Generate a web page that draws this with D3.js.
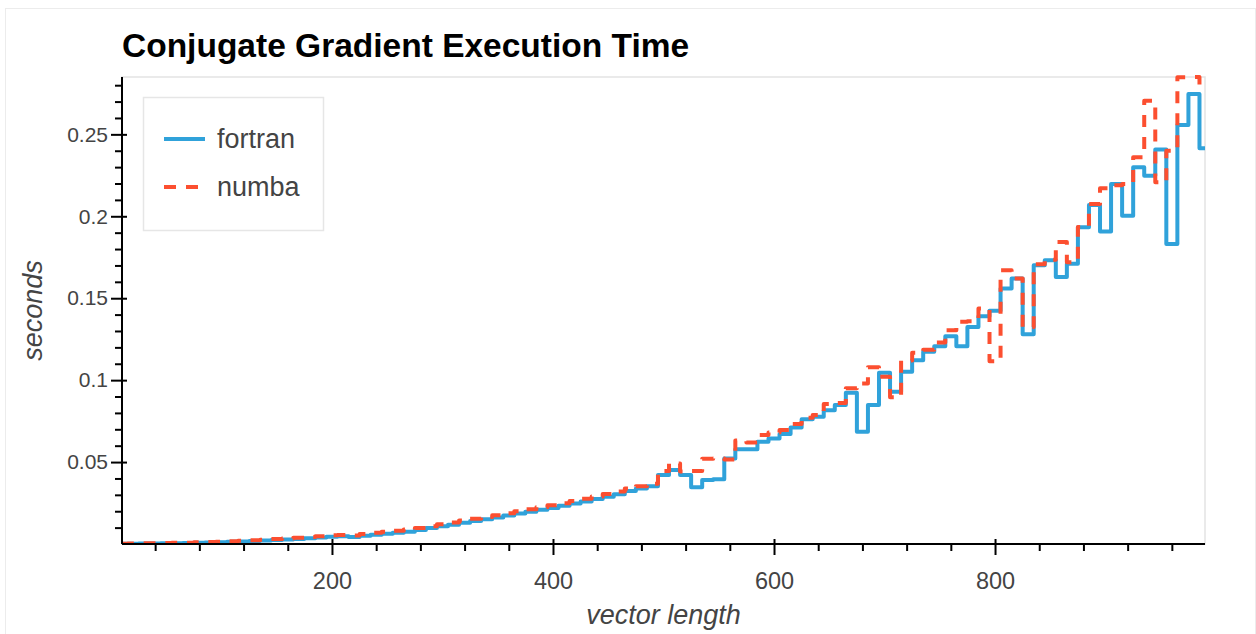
<!DOCTYPE html>
<html>
<head>
<meta charset="utf-8">
<script src="https://cdnjs.cloudflare.com/ajax/libs/d3/7.8.5/d3.min.js"></script>
<style>
  body { margin: 0; background: #fff; }
  text { font-family: "Liberation Sans", Arial, Helvetica, sans-serif; }
</style>
</head>
<body>
<div id="viz"></div>
<script>
// vector length (x) and timings in seconds for each implementation
var vectorLength = [10, 20, 30, 40, 50, 60, 70, 80, 90, 100,
    110, 120, 130, 140, 150, 160, 170, 180, 190, 200,
    210, 220, 230, 240, 250, 260, 270, 280, 290, 300,
    310, 320, 330, 340, 350, 360, 370, 380, 390, 400,
    410, 420, 430, 440, 450, 460, 470, 480, 490, 500,
    510, 520, 530, 540, 550, 560, 570, 580, 590, 600,
    610, 620, 630, 640, 650, 660, 670, 680, 690, 700,
    710, 720, 730, 740, 750, 760, 770, 780, 790, 800,
    810, 820, 830, 840, 850, 860, 870, 880, 890, 900,
    910, 920, 930, 940, 950, 960, 970, 980, 990];

var fortran = [0.0002, 0.0002, 0.0003, 0.0003, 0.0004, 0.0005, 0.0006, 0.0007, 0.0009, 0.0011,
    0.0013, 0.0016, 0.0018, 0.0021, 0.0024, 0.0027, 0.0031, 0.0035, 0.0039, 0.0044,
    0.0048, 0.0042, 0.0051, 0.0057, 0.0063, 0.0068, 0.0075, 0.0085, 0.0097, 0.0108,
    0.0118, 0.0130, 0.0141, 0.0151, 0.0162, 0.0174, 0.0186, 0.0197, 0.0209, 0.0220,
    0.0233, 0.0247, 0.0259, 0.0274, 0.0289, 0.0304, 0.0323, 0.0339, 0.0352, 0.0421,
    0.0451, 0.0421, 0.0346, 0.0390, 0.0395, 0.0522, 0.0579, 0.0579, 0.0624, 0.0644,
    0.0671, 0.0711, 0.0762, 0.0776, 0.0817, 0.0848, 0.0923, 0.0685, 0.0848, 0.1045,
    0.0929, 0.1051, 0.1122, 0.1173, 0.1207, 0.1268, 0.1207, 0.1325, 0.1390, 0.1423,
    0.1559, 0.1620, 0.1280, 0.1701, 0.1732, 0.1630, 0.1711, 0.1933, 0.2069, 0.1907,
    0.2197, 0.2004, 0.2299, 0.2248, 0.2407, 0.1831, 0.2557, 0.2746, 0.2415];

var numba = [0.0002, 0.0003, 0.0004, 0.0005, 0.0006, 0.0007, 0.0008, 0.0010, 0.0012, 0.0014,
    0.0017, 0.0020, 0.0023, 0.0026, 0.0030, 0.0034, 0.0038, 0.0043, 0.0048, 0.0053,
    0.0055, 0.0052, 0.0061, 0.0068, 0.0075, 0.0081, 0.0088, 0.0097, 0.0109, 0.0121,
    0.0131, 0.0143, 0.0154, 0.0165, 0.0176, 0.0188, 0.0200, 0.0212, 0.0225, 0.0236,
    0.0249, 0.0263, 0.0276, 0.0290, 0.0305, 0.0321, 0.0338, 0.0352, 0.0368, 0.0445,
    0.0492, 0.0442, 0.0445, 0.0520, 0.0522, 0.0515, 0.0632, 0.0620, 0.0665, 0.0680,
    0.0695, 0.0732, 0.0770, 0.0787, 0.0854, 0.0860, 0.0950, 0.0980, 0.1079, 0.1020,
    0.0895, 0.1120, 0.1167, 0.1185, 0.1230, 0.1305, 0.1356, 0.1360, 0.1437, 0.1115,
    0.1671, 0.1620, 0.1325, 0.1707, 0.1735, 0.1843, 0.1720, 0.1935, 0.2075, 0.2171,
    0.2190, 0.2197, 0.2360, 0.2705, 0.2207, 0.2400, 0.2849, 0.2850, 0.2797];

var xTicks = [200, 400, 600, 800];
var xTickLabels = ['200', '400', '600', '800'];
var xMinorTicks = [40, 80, 120, 160, 240, 280, 320, 360, 440, 480, 520, 560,
    640, 680, 720, 760, 840, 880, 920, 960];
var yTicks = [0.05, 0.1, 0.15, 0.2, 0.25];
var yTickLabels = ['0.05', '0.1', '0.15', '0.2', '0.25'];
var yMinorTicks = [0.01, 0.02, 0.03, 0.04, 0.06, 0.07, 0.08, 0.09, 0.11, 0.12, 0.13, 0.14,
    0.16, 0.17, 0.18, 0.19, 0.21, 0.22, 0.23, 0.24, 0.26, 0.27, 0.28];

var seriesNames = ['fortran', 'numba'];
var seriesColors = ['#30a2da', '#fc4f30'];

var width = 1256,
    height = 634,
    plotLeft = 122,
    plotRight = 1205,
    plotTop = 77,
    plotBottom = 544;

var xScale = d3.scaleLinear()
    .domain([10, 990])
    .range([plotLeft, plotRight]);

var yScale = d3.scaleLinear()
    .domain([0, 0.285])
    .range([plotBottom, plotTop]);

var svg = d3.select('#viz').append('svg')
    .attr('width', width)
    .attr('height', height)
    .style('display', 'block')
    .style('background', '#fff');

// faint outer border of the figure
svg.append('rect')
    .attr('x', 5.5).attr('y', 8.5)
    .attr('width', 1250).attr('height', 640)
    .attr('fill', 'none')
    .attr('stroke', '#ececec');

// plot frame outline
svg.append('rect')
    .attr('x', plotLeft).attr('y', plotTop)
    .attr('width', plotRight - plotLeft).attr('height', plotBottom - plotTop)
    .attr('fill', 'none')
    .attr('stroke', '#e3e3e3')
    .attr('stroke-width', 1.5);

svg.append('clipPath').attr('id', 'clip')
  .append('rect')
    .attr('x', plotLeft).attr('y', plotTop - 2)
    .attr('width', plotRight - plotLeft).attr('height', plotBottom - plotTop + 2);

var line = d3.line()
    .curve(d3.curveStep)
    .x(function(d) { return xScale(d[0]); })
    .y(function(d) { return yScale(d[1]); });

var series = [fortran, numba];

svg.append('g').attr('clip-path', 'url(#clip)')
  .selectAll('path').data(series)
    .enter().append('path')
    .attr('d', function(d) {
        return line(d.map(function(v, i) { return [vectorLength[i], v]; }));
    })
    .attr('fill', 'none')
    .attr('stroke', function(d, i) { return seriesColors[i]; })
    .attr('stroke-width', 4)
    .attr('stroke-linejoin', 'round')
    .attr('stroke-dasharray', function(d, i) { return i == 1 ? '12,10' : null; });

// x axis: minor ticks, then major ticks with labels
svg.append('g')
    .attr('transform', 'translate(0,' + plotBottom + ')')
    .call(d3.axisBottom(xScale).tickValues(xMinorTicks).tickFormat('').tickSizeInner(7).tickSizeOuter(0))
    .call(function(g) { g.select('.domain').remove(); })
    .selectAll('line').attr('stroke', '#000').attr('stroke-width', 2);

var xAxis = svg.append('g')
    .attr('transform', 'translate(0,' + plotBottom + ')')
    .call(d3.axisBottom(xScale)
        .tickValues(xTicks)
        .tickFormat(function(d, i) { return xTickLabels[i]; })
        .tickSizeInner(11)
        .tickSizeOuter(0)
        .tickPadding(17));
xAxis.select('.domain').attr('stroke', '#000').attr('stroke-width', 2)
    .attr('d', 'M' + plotLeft + ',0H' + plotRight);
xAxis.selectAll('line').attr('stroke', '#000').attr('stroke-width', 2).attr('y1', -5);
xAxis.selectAll('text')
    .attr('fill', '#444')
    .style('font-size', '23.5px');

// y axis
svg.append('g')
    .attr('transform', 'translate(' + plotLeft + ',0)')
    .call(d3.axisLeft(yScale).tickValues(yMinorTicks).tickFormat('').tickSizeInner(7).tickSizeOuter(0))
    .call(function(g) { g.select('.domain').remove(); })
    .selectAll('line').attr('stroke', '#000').attr('stroke-width', 2);

var yAxis = svg.append('g')
    .attr('transform', 'translate(' + plotLeft + ',0)')
    .call(d3.axisLeft(yScale)
        .tickValues(yTicks)
        .tickFormat(function(d, i) { return yTickLabels[i]; })
        .tickSizeInner(11)
        .tickSizeOuter(0)
        .tickPadding(3));
yAxis.select('.domain').attr('stroke', '#000').attr('stroke-width', 2)
    .attr('d', 'M0,' + plotTop + 'V' + plotBottom);
yAxis.selectAll('line').attr('stroke', '#000').attr('stroke-width', 2).attr('x1', 5);
yAxis.selectAll('text')
    .attr('fill', '#444')
    .style('font-size', '21px');

// title and axis labels
svg.append('text')
    .attr('x', plotLeft)
    .attr('y', 57)
    .style('font-size', '33.5px')
    .style('font-weight', 'bold')
    .attr('fill', '#000')
    .text('Conjugate Gradient Execution Time');

svg.append('text')
    .attr('x', (plotLeft + plotRight) / 2)
    .attr('y', 624)
    .attr('text-anchor', 'middle')
    .style('font-size', '27px')
    .style('font-style', 'italic')
    .attr('fill', '#444')
    .text('vector length');

svg.append('text')
    .attr('transform', 'translate(42,' + (plotTop + plotBottom) / 2 + ') rotate(-90)')
    .attr('text-anchor', 'middle')
    .style('font-size', '27px')
    .style('font-style', 'italic')
    .attr('fill', '#444')
    .text('seconds');

// legend
var legend = svg.append('g');
legend.append('rect')
    .attr('x', 143.5).attr('y', 97.5)
    .attr('width', 180).attr('height', 133)
    .attr('fill', '#fff')
    .attr('stroke', '#e6e6e6')
    .attr('stroke-width', 1.5);

var items = legend.selectAll('g.item').data(seriesNames)
    .enter().append('g')
    .attr('class', 'item')
    .attr('transform', function(d, i) { return 'translate(164,' + (139 + i * 48) + ')'; });

items.append('line')
    .attr('x1', 0).attr('x2', 41)
    .attr('stroke', function(d, i) { return seriesColors[i]; })
    .attr('stroke-width', 4)
    .attr('stroke-dasharray', function(d, i) { return i == 1 ? '12,10' : null; });

items.append('text')
    .attr('x', 53)
    .attr('dy', '0.35em')
    .style('font-size', '27px')
    .attr('fill', '#444')
    .text(function(d) { return d; });
</script>
</body>
</html>
